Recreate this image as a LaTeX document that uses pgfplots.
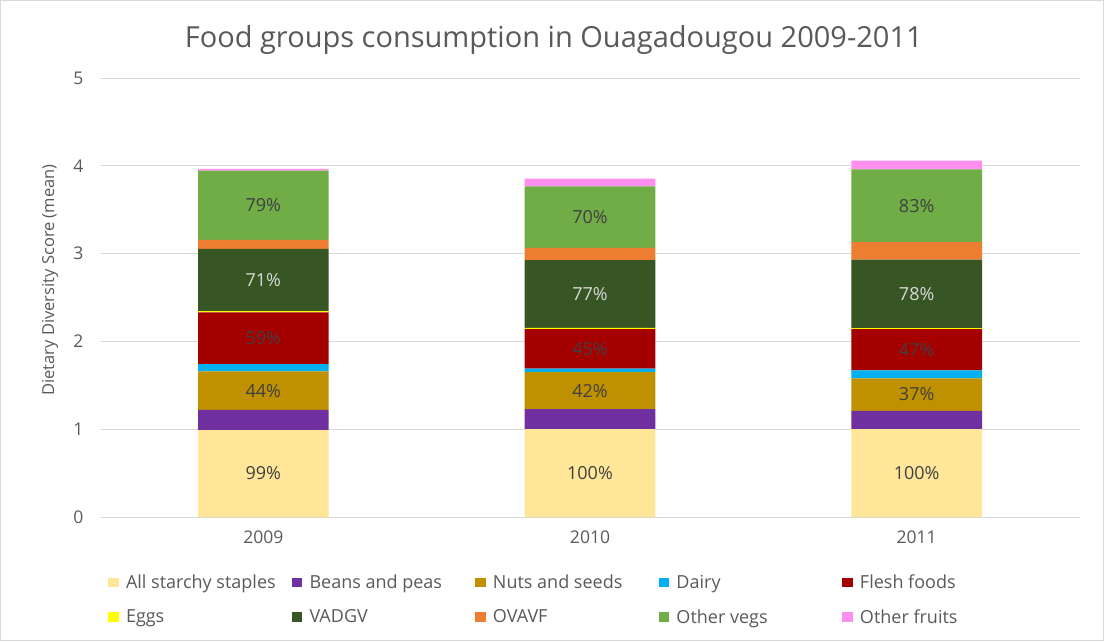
\documentclass[border=0pt]{standalone}
\usepackage{pgfplots}
\pgfplotsset{compat=1.18}
\usepackage{pgfplotstable}
\usepackage{fontspec}
\setmainfont{Open Sans}

\definecolor{cStaples}{HTML}{FFE699}
\definecolor{cBeans}{HTML}{7030A0}
\definecolor{cNuts}{HTML}{BF9000}
\definecolor{cDairy}{HTML}{00B0F0}
\definecolor{cFlesh}{HTML}{A50000}
\definecolor{cEggs}{HTML}{FFFF00}
\definecolor{cVadgv}{HTML}{375623}
\definecolor{cOvavf}{HTML}{ED7D31}
\definecolor{cVegs}{HTML}{70AD47}
\definecolor{cFruits}{HTML}{FF8FEF}
\definecolor{cText}{HTML}{595959}
\definecolor{cLab}{HTML}{404040}
\definecolor{cLabLight}{HTML}{D9D9D9}
\definecolor{cGrid}{HTML}{D9D9D9}

\pgfplotstableread{
x staples beans nuts dairy flesh eggs vadgv ovavf vegs fruits Ls Ln Lf Lv Lg
0 0.99 0.23 0.44 0.08 0.59 0.015 0.71 0.10 0.79 0.02 99 44 59 71 79
1 1.00 0.23 0.42 0.04 0.45 0.015 0.77 0.14 0.70 0.09 100 42 45 77 70
2 1.00 0.21 0.37 0.09 0.47 0.010 0.78 0.20 0.83 0.10 100 37 47 78 83
}\datatable

\pgfplotsset{
  lab/.style={
    nodes near coords={\pgfplotspointmeta\%},
    point meta=explicit symbolic,
    nodes near coords style={font=\fontsize{18}{18}\selectfont, text=#1,
      anchor=center},
  },
}

\begin{document}
\begin{tikzpicture}
\path[use as bounding box] (0pt,0pt) rectangle (1104pt,641pt);
\draw[cGrid, line width=1pt] (0.5pt,0.5pt) rectangle (1103.5pt,640.5pt);
\begin{axis}[
  at={(100pt,124pt)}, anchor=south west,
  scale only axis, width=980pt, height=439pt,
  ybar stacked, bar width=0.4,
  xmin=-0.5, xmax=2.5, ymin=0, ymax=5,
  xtick={0,1,2}, xticklabels={2009,2010,2011},
  ytick={0,1,2,3,4,5},
  /pgf/number format/assume math mode=true,
  axis line style={draw=none},
  major tick length=0pt,
  ymajorgrids, grid style={cGrid, line width=1pt},
  ticklabel style={font=\fontsize{17.5}{17.5}\selectfont, text=cText},
  xticklabel style={yshift=-10pt},
  yticklabel style={xshift=-13pt},
  title={Food groups consumption in Ouagadougou 2009-2011},
  title style={font=\fontsize{29}{29}\selectfont, text=cText,
    at={(axis description cs:0.463,1)}, anchor=center, yshift=32pt},
  ylabel={Dietary Diversity Score (mean)},
  ylabel style={font=\fontsize{16.5}{16.5}\selectfont, text=cText,
    at={(axis description cs:-0.051,0.54)}, anchor=center},
  legend columns=5,
  legend image code/.code={\fill[#1] (0pt,-4.75pt) rectangle (10.5pt,4.75pt);},
  legend style={draw=none, fill=none, inner sep=0pt, outer sep=0pt,
    font=\fontsize{18}{18}\selectfont, text=cText,
    at={(axis description cs:0,0)}, anchor=north west,
    xshift=8.5pt, yshift=-56pt, row sep=15pt,
    /tikz/every odd column/.append style={column sep=5pt},
    /tikz/every even column/.append style={column sep=14pt}},
  legend cell align=left,
]
\addplot[fill=cStaples, draw=none, lab=cLab] table[x=x, y=staples, meta=Ls] {\datatable};
\addlegendentry{\makebox[150pt][l]{All starchy staples}}
\addplot[fill=cBeans, draw=none] table[x=x, y=beans] {\datatable};
\addlegendentry{\makebox[150pt][l]{Beans and peas}}
\addplot[fill=cNuts, draw=none, lab=cLab] table[x=x, y=nuts, meta=Ln] {\datatable};
\addlegendentry{\makebox[150pt][l]{Nuts and seeds}}
\addplot[fill=cDairy, draw=none] table[x=x, y=dairy] {\datatable};
\addlegendentry{\makebox[150pt][l]{Dairy}}
\addplot[fill=cFlesh, draw=none, lab=cLab] table[x=x, y=flesh, meta=Lf] {\datatable};
\addlegendentry{\makebox[150pt][l]{Flesh foods}}
\addplot[fill=cEggs, draw=none] table[x=x, y=eggs] {\datatable};
\addlegendentry{\makebox[150pt][l]{Eggs}}
\addplot[fill=cVadgv, draw=none, lab=cLabLight] table[x=x, y=vadgv, meta=Lv] {\datatable};
\addlegendentry{\makebox[150pt][l]{VADGV}}
\addplot[fill=cOvavf, draw=none] table[x=x, y=ovavf] {\datatable};
\addlegendentry{\makebox[150pt][l]{OVAVF}}
\addplot[fill=cVegs, draw=none, lab=cLab] table[x=x, y=vegs, meta=Lg] {\datatable};
\addlegendentry{\makebox[150pt][l]{Other vegs}}
\addplot[fill=cFruits, draw=none] table[x=x, y=fruits] {\datatable};
\addlegendentry{\makebox[150pt][l]{Other fruits}}
\end{axis}
\end{tikzpicture}
\end{document}
